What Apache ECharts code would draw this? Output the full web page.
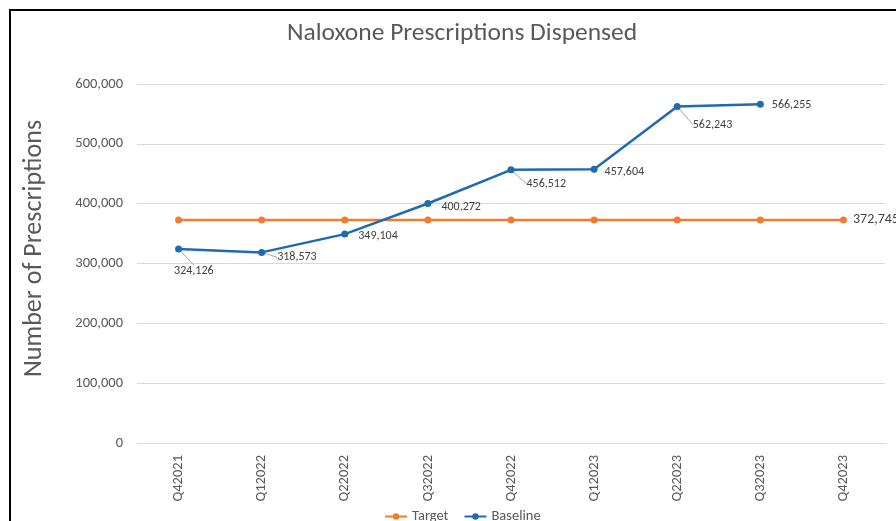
<!DOCTYPE html>
<html>
<head>
<meta charset="utf-8">
<script src="https://cdn.jsdelivr.net/npm/echarts@6/dist/echarts.min.js"></script>
<style>
  html, body { margin: 0; padding: 0; background: #fff; }
  #chart { width: 896px; height: 521px; }
</style>
</head>
<body>
<div id="chart"></div>
<script>
const categories = ['Q42021', 'Q12022', 'Q22022', 'Q32022', 'Q42022', 'Q12023', 'Q22023', 'Q32023', 'Q42023']
const targetValues = [372745, 372745, 372745, 372745, 372745, 372745, 372745, 372745, 372745]
const baselineValues = [324126, 318573, 349104, 400272, 456512, 457604, 562243, 566255, null]

// label offsets for the baseline points (dx, dy, leader line)
const baselineLabelShift = [
  [-20, 22, true], [0, 5, true], [-2, 2, false], [-2, 3, false],
  [0, 14, true], [-5, 3, false], [0, 18, true], [-4, 1, false]
]

const fontFamily = 'Carlito, Calibri, Lato, sans-serif'
const fmt = v => v.toLocaleString('en-US')

const chart = echarts.init(document.getElementById('chart'))

const option = {
  animation: false,
  textStyle: { fontFamily: fontFamily },
  title: {
    text: 'Naloxone Prescriptions Dispensed',
    left: 282,
    top: 16,
    textStyle: { fontSize: 25.5, fontWeight: 'normal', color: '#595959', fontFamily: fontFamily }
  },
  grid: { left: 137, right: 11, top: 84, bottom: 78 },
  legend: {
    bottom: -8,
    left: 379,
    itemWidth: 22,
    itemHeight: 8,
    itemGap: 15,
    textStyle: { fontSize: 14.5, color: '#595959', fontFamily: fontFamily },
    data: ['Target', 'Baseline']
  },
  xAxis: {
    type: 'category',
    data: categories,
    boundaryGap: true,
    axisLine: { lineStyle: { color: '#D9D9D9' } },
    axisTick: { show: false },
    axisLabel: { rotate: 90, margin: 12, fontSize: 14.5, color: '#595959', fontFamily: fontFamily }
  },
  yAxis: {
    type: 'value',
    min: 0,
    max: 600000,
    interval: 100000,
    name: 'Number of Prescriptions',
    nameLocation: 'middle',
    nameGap: 90,
    nameTextStyle: { fontSize: 26, color: '#595959', fontFamily: fontFamily, padding: [0, 0, 0, 30] },
    axisLabel: { formatter: v => fmt(v), fontSize: 14.5, color: '#595959', margin: 14, fontFamily: fontFamily },
    splitLine: { lineStyle: { color: '#D9D9D9' } },
    axisLine: { show: false },
    axisTick: { show: false }
  },
  series: [
    {
      name: 'Target',
      type: 'line',
      data: targetValues,
      symbol: 'circle',
      symbolSize: 7,
      itemStyle: { color: '#ED7D31' },
      lineStyle: { color: '#ED7D31', width: 2.5 },
      label: {
        show: true,
        position: 'right',
        distance: 6,
        fontSize: 14,
        color: '#404040',
        fontFamily: fontFamily,
        formatter: p => (p.dataIndex === categories.length - 1 ? fmt(p.value) : '')
      }
    },
    {
      name: 'Baseline',
      type: 'line',
      data: baselineValues.map((v, i) => ({
        value: v,
        labelLine: { show: baselineLabelShift[i] ? baselineLabelShift[i][2] : false }
      })),
      symbol: 'circle',
      symbolSize: 7,
      itemStyle: { color: '#1F6AB0' },
      lineStyle: { color: '#1F6AB0', width: 2.5 },
      label: {
        show: true,
        position: 'right',
        distance: 12,
        fontSize: 12,
        color: '#404040',
        fontFamily: fontFamily,
        formatter: p => fmt(p.value)
      },
      labelLine: { lineStyle: { color: '#A6A6A6', width: 1 } },
      labelLayout: p => {
        const s = baselineLabelShift[p.dataIndex] || [0, 0, false]
        return { dx: s[0], dy: s[1] }
      }
    }
  ],
  graphic: [
    {
      type: 'polyline',
      shape: { points: [[10, 600], [10, 10], [900, 10]] },
      style: { stroke: '#000', lineWidth: 2, fill: null }
    }
  ]
}

chart.setOption(option)
window.addEventListener('resize', () => chart.resize())
</script>
</body>
</html>
